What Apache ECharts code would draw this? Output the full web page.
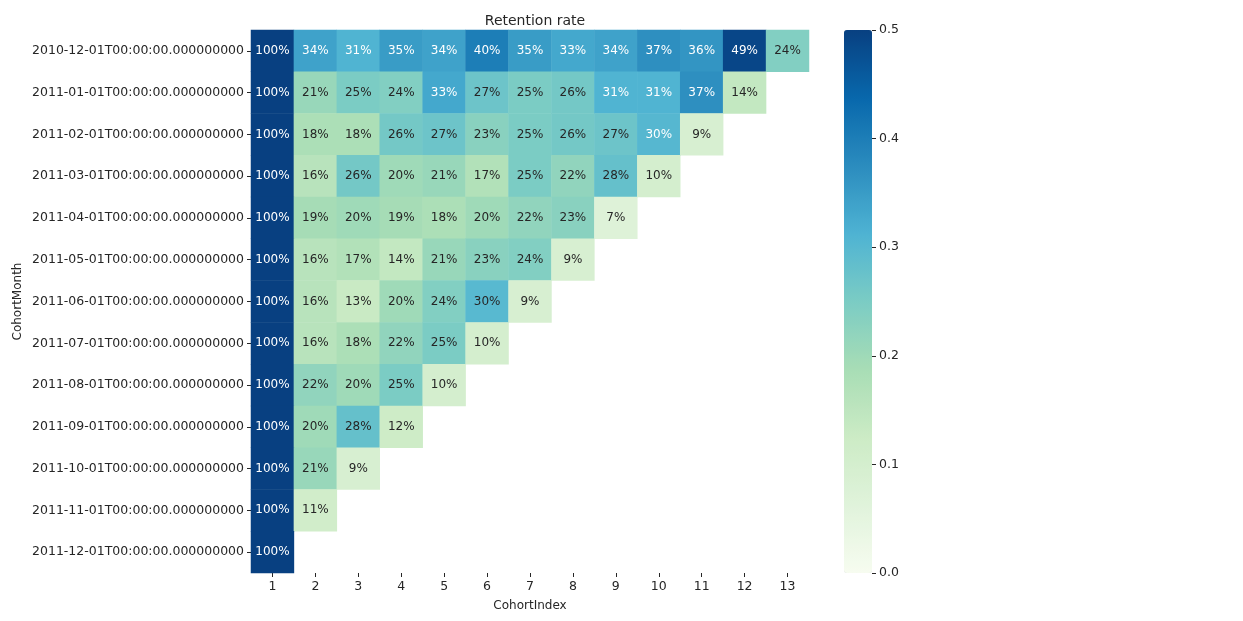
<!DOCTYPE html>
<html>
<head>
<meta charset="utf-8">
<script src="https://cdn.jsdelivr.net/npm/echarts@6/dist/echarts.min.js"></script>
<style>
html,body{margin:0;padding:0;background:#fff;}
#chart{width:1243px;height:621px;}
</style>
</head>
<body>
<div id="chart"></div>
<script>
const cohortMonths = [
  '2010-12-01T00:00:00.000000000','2011-01-01T00:00:00.000000000','2011-02-01T00:00:00.000000000',
  '2011-03-01T00:00:00.000000000','2011-04-01T00:00:00.000000000','2011-05-01T00:00:00.000000000',
  '2011-06-01T00:00:00.000000000','2011-07-01T00:00:00.000000000','2011-08-01T00:00:00.000000000',
  '2011-09-01T00:00:00.000000000','2011-10-01T00:00:00.000000000','2011-11-01T00:00:00.000000000',
  '2011-12-01T00:00:00.000000000'
];
const cohortIndex = ['1','2','3','4','5','6','7','8','9','10','11','12','13'];
const colorbarTicks = ['0.0', '0.1', '0.2', '0.3', '0.4', '0.5'];

const row2010_12 = [1.00, 0.34, 0.31, 0.35, 0.34, 0.40, 0.35, 0.33, 0.34, 0.37, 0.36, 0.49, 0.24];
const row2011_01 = [1.00, 0.21, 0.25, 0.24, 0.33, 0.27, 0.25, 0.26, 0.31, 0.31, 0.37, 0.14];
const row2011_02 = [1.00, 0.18, 0.18, 0.26, 0.27, 0.23, 0.25, 0.26, 0.27, 0.302, 0.09];
const row2011_03 = [1.00, 0.16, 0.26, 0.20, 0.21, 0.17, 0.25, 0.22, 0.28, 0.10];
const row2011_04 = [1.00, 0.19, 0.20, 0.19, 0.18, 0.20, 0.22, 0.23, 0.07];
const row2011_05 = [1.00, 0.16, 0.17, 0.14, 0.21, 0.23, 0.24, 0.09];
const row2011_06 = [1.00, 0.16, 0.13, 0.20, 0.24, 0.298, 0.09];
const row2011_07 = [1.00, 0.16, 0.18, 0.22, 0.25, 0.10];
const row2011_08 = [1.00, 0.22, 0.20, 0.25, 0.10];
const row2011_09 = [1.00, 0.20, 0.28, 0.12];
const row2011_10 = [1.00, 0.21, 0.09];
const row2011_11 = [1.00, 0.11];
const row2011_12 = [1.00];

const rows = [row2010_12,row2011_01,row2011_02,row2011_03,row2011_04,row2011_05,row2011_06,
              row2011_07,row2011_08,row2011_09,row2011_10,row2011_11,row2011_12];

const GnBu = ['#f7fcf0','#e0f3db','#ccebc5','#a8ddb5','#7bccc4','#4eb3d3','#2b8cbe','#0868ac','#084081'];
const FONT = 'DejaVu Sans';
const TXT = '#262626';

const data = [];
rows.forEach((r, yi) => {
  r.forEach((v, xi) => {
    data.push({
      value: [xi, yi, v],
      label: { color: v >= 0.30 ? '#ffffff' : TXT }
    });
  });
});

const G = { left: 251, top: 30, width: 558, height: 543 };
const CB = { left: 844, top: 30, width: 28, height: 543 };

const chart = echarts.init(document.getElementById('chart'), null, { renderer: 'canvas' });
chart.setOption({
  animation: false,
  backgroundColor: '#ffffff',
  textStyle: { fontFamily: FONT },
  title: {
    text: 'Retention rate',
    left: G.left + G.width / 2, top: 9, textAlign: 'center',
    textStyle: { fontFamily: FONT, fontSize: 14, fontWeight: 'normal', color: TXT }
  },
  grid: [
    { left: G.left, top: G.top, width: G.width, height: G.height },
    { left: CB.left + CB.width, top: CB.top, width: 2, height: CB.height, z: 10 }
  ],
  xAxis: [
    {
      type: 'category', data: cohortIndex, gridIndex: 0,
      name: 'CohortIndex', nameLocation: 'middle', nameGap: 27,
      nameTextStyle: { fontFamily: FONT, fontSize: 12, color: TXT },
      axisLine: { show: false },
      axisTick: { show: true, alignWithLabel: true, length: 4, lineStyle: { color: TXT } },
      axisLabel: { fontFamily: FONT, fontSize: 12.5, color: TXT, margin: 7 },
      splitLine: { show: false }
    },
    { type: 'value', gridIndex: 1, show: false, min: 0, max: 1 }
  ],
  yAxis: [
    {
      type: 'category', data: cohortMonths, gridIndex: 0, inverse: true,
      name: 'CohortMonth', nameLocation: 'middle', nameGap: 227, nameRotate: 90,
      nameTextStyle: { fontFamily: FONT, fontSize: 12, color: TXT },
      axisLine: { show: false },
      axisTick: { show: true, alignWithLabel: true, length: 4, lineStyle: { color: TXT } },
      axisLabel: { fontFamily: FONT, fontSize: 12.5, color: TXT, margin: 7 },
      splitLine: { show: false }
    },
    {
      type: 'value', gridIndex: 1, position: 'left', min: 0, max: 0.5, interval: 0.1, z: 20,
      axisLine: { show: false },
      axisTick: { show: true, inside: true, length: 4, lineStyle: { color: TXT, width: 1 } },
      axisLabel: { inside: true, fontFamily: FONT, fontSize: 12.5, color: TXT, margin: 7,
        formatter: v => colorbarTicks[Math.round(v * 10)] },
      splitLine: { show: false }
    }
  ],
  visualMap: {
    type: 'continuous', min: 0, max: 0.5, seriesIndex: 0,
    calculable: false, hoverLink: false, realtime: false,
    orient: 'vertical', left: CB.left, top: CB.top, padding: 0, z: 1,
    itemWidth: CB.width, itemHeight: CB.height,
    text: null, showLabel: false,
    inRange: { color: GnBu }
  },
  series: [
    {
      type: 'heatmap', xAxisIndex: 0, yAxisIndex: 0, data: data,
      label: {
        show: true, fontFamily: FONT, fontSize: 12,
        formatter: p => Math.round(p.value[2] * 100) + '%'
      },
      itemStyle: { borderWidth: 0 },
      emphasis: { disabled: true }
    },
    { type: 'line', xAxisIndex: 1, yAxisIndex: 1, data: [], silent: true }
  ]
});
</script>
</body>
</html>
